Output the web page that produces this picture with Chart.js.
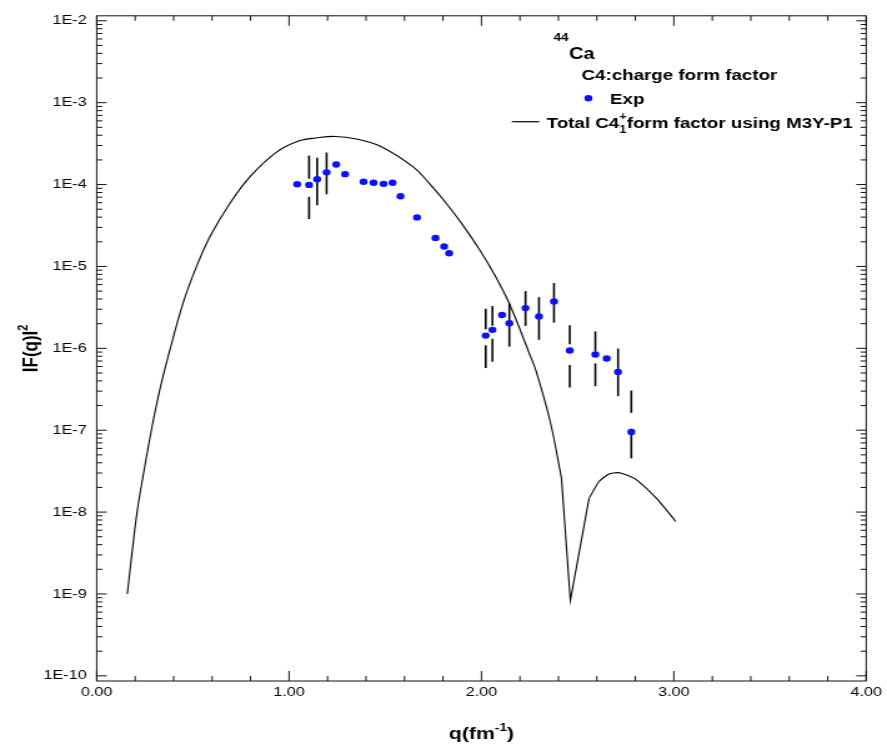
<!DOCTYPE html>
<html>
<head>
<meta charset="utf-8">
<script src="https://cdn.jsdelivr.net/npm/chart.js@4.4.1/dist/chart.umd.min.js"></script>
<style>
  html, body { margin: 0; padding: 0; background: #fff; overflow: hidden; }
  /* the source picture is stretched sideways, so the canvas is too */
  #wrap { width: 710px; height: 745px; transform: scaleX(1.2493); transform-origin: 0 0; }
</style>
</head>
<body>
<div id="wrap"><canvas id="chart"></canvas></div>
<script>
// theory curve: total C4 form factor (M3Y-P1)
const curveQ = [0.159, 0.208, 0.242, 0.286, 0.329, 0.377, 0.450, 0.519, 0.589, 0.692, 0.796, 0.935, 1.056, 1.140,
  1.238, 1.351, 1.472, 1.645, 1.731, 1.818, 1.905, 1.991, 2.069, 2.147, 2.251, 2.286, 2.358, 2.416, 2.462, 2.559,
  2.611, 2.663, 2.710, 2.762, 2.813, 2.909, 3.010]
const curveF = [1.0e-9, 9.3e-9, 2.84e-8, 1.05e-7, 3.2e-7, 8.9e-7, 3.63e-6, 1.0e-5, 2.32e-5, 5.87e-5, 1.24e-4, 2.49e-4, 3.44e-4, 3.71e-4,
  3.87e-4, 3.6e-4, 2.95e-4, 1.64e-4, 1.02e-4, 5.87e-5, 3.15e-5, 1.59e-5, 7.85e-6, 3.43e-6, 8.4e-7, 5.1e-7, 1.26e-7, 2.6e-8, 8.3e-10, 1.46e-8,
  2.36e-8, 2.92e-8, 3.03e-8, 2.79e-8, 2.41e-8, 1.48e-8, 7.7e-9]
// the minimum near q = 2.46 is a sharp notch, not smoothed
const dipFrom = 27, dipTo = 29

// experimental points
const expQ = [1.042, 1.104, 1.146, 1.195, 1.245, 1.291, 1.387, 1.439, 1.491, 1.538, 1.579, 1.665, 1.761, 1.806,
  1.832, 2.022, 2.057, 2.107, 2.145, 2.229, 2.299, 2.377, 2.459, 2.592, 2.651, 2.710, 2.779]
const expF = [1.01e-4, 9.9e-5, 1.16e-4, 1.41e-4, 1.76e-4, 1.34e-4, 1.08e-4, 1.05e-4, 1.02e-4, 1.05e-4, 7.2e-5, 3.97e-5, 2.23e-5, 1.75e-5,
  1.45e-5, 1.43e-6, 1.68e-6, 2.55e-6, 2.02e-6, 3.1e-6, 2.45e-6, 3.73e-6, 9.4e-7, 8.4e-7, 7.5e-7, 5.14e-7, 9.5e-8]
// error bar ends (null = no bar)
const errHi = [null, 2.26e-4, 2.12e-4, 2.46e-4, null, null, null, null, null, null, null, null, null, null,
  null, 3.04e-6, 3.28e-6, null, 3.53e-6, 4.99e-6, 4.22e-6, 6.28e-6, 1.91e-6, 1.61e-6, null, 9.95e-7, 3.05e-7]
const errLo = [null, 3.79e-5, 5.6e-5, 7.6e-5, null, null, null, null, null, null, null, null, null, null,
  null, 5.74e-7, 6.87e-7, null, 1.05e-6, 1.88e-6, 1.27e-6, 2.06e-6, 3.32e-7, 3.44e-7, null, 2.6e-7, 4.53e-8]
// where a bar is broken, the part left out
const gapHi = [null, 1.18e-4, null, null, null, null, null, null, null, null, null, null, null, null,
  null, 1.71e-6, 1.88e-6, null, null, null, null, null, 1.12e-6, 9.16e-7, null, null, 1.63e-7]
const gapLo = [null, 7.08e-5, null, null, null, null, null, null, null, null, null, null, null, null,
  null, 1.09e-6, 1.31e-6, null, null, null, null, null, 6.24e-7, 6.55e-7, null, null, 1.04e-7]

const decades = [-10, -9, -8, -7, -6, -5, -4, -3, -2]

const FONT = '"Liberation Sans", Arial, sans-serif'
const BLUE = 'rgb(8,18,255)'

function line(ctx, x1, y1, x2, y2) {
  ctx.beginPath()
  ctx.moveTo(x1, y1)
  ctx.lineTo(x2, y2)
  ctx.stroke()
}

function curvePart(from, to, tension) {
  return {
    label: 'Total C4 form factor using M3Y-P1',
    data: curveQ.slice(from, to + 1).map((q, i) => ({ x: q, y: curveF[from + i] })),
    borderColor: '#000',
    borderWidth: 1.1,
    pointRadius: 0,
    showLine: true,
    tension: tension,
    order: 1
  }
}

// error bars, under the markers
const errorBars = {
  id: 'errorBars',
  beforeDatasetsDraw(chart) {
    const { ctx, scales: { x, y } } = chart
    ctx.save()
    ctx.strokeStyle = '#000'
    ctx.lineWidth = 1.6
    for (let i = 0; i < expQ.length; i++) {
      if (errHi[i] == null) continue
      const px = x.getPixelForValue(expQ[i])
      if (gapHi[i] != null) {
        line(ctx, px, y.getPixelForValue(errHi[i]), px, y.getPixelForValue(gapHi[i]))
        line(ctx, px, y.getPixelForValue(gapLo[i]), px, y.getPixelForValue(errLo[i]))
      } else {
        line(ctx, px, y.getPixelForValue(errHi[i]), px, y.getPixelForValue(errLo[i]))
      }
    }
    ctx.restore()
  }
}

// box round the plot with inward ticks on all four sides
const frame = {
  id: 'frame',
  afterDraw(chart) {
    const { ctx, chartArea: a, scales: { x, y } } = chart
    ctx.save()
    ctx.strokeStyle = '#111'
    ctx.lineWidth = 1
    ctx.strokeRect(a.left, a.top, a.right - a.left, a.bottom - a.top)
    for (let i = 0; i <= 20; i++) {
      const px = x.getPixelForValue(i * 0.2)
      const len = i % 5 === 0 ? 10 : 5
      line(ctx, px, a.bottom, px, a.bottom - len)
      line(ctx, px, a.top, px, a.top + len)
    }
    decades.forEach(e => {
      for (let m = 1; m <= 9; m++) {
        if (e === -2 && m > 1) break
        const py = y.getPixelForValue(m * Math.pow(10, e))
        const len = m === 1 ? 8 : 4.5
        line(ctx, a.left, py, a.left + len, py)
        line(ctx, a.right, py, a.right - len, py)
      }
    })
    ctx.restore()
  }
}

// legend, nucleus label and axis titles
const labels = {
  id: 'labels',
  afterDraw(chart) {
    const { ctx, chartArea: a } = chart
    ctx.save()
    ctx.fillStyle = '#000'
    ctx.textBaseline = 'alphabetic'
    ctx.textAlign = 'left'

    ctx.font = 'bold 11px ' + FONT
    ctx.fillText('44', 443, 41)
    ctx.font = 'bold 16px ' + FONT
    ctx.fillText('Ca', 455.5, 59)

    ctx.font = 'bold 15px ' + FONT
    ctx.fillText('C4:charge form factor', 465.5, 79.5)

    ctx.fillStyle = BLUE
    ctx.beginPath()
    ctx.arc(471, 98.3, 3.2, 0, Math.PI * 2)
    ctx.fill()
    ctx.fillStyle = '#000'
    ctx.fillText('Exp', 488.3, 104)

    ctx.strokeStyle = '#000'
    ctx.lineWidth = 1.2
    line(ctx, 409.6, 121.7, 431.7, 121.7)
    let tx = 437.6
    const t1 = 'Total C4'
    ctx.fillText(t1, tx, 127.5)
    tx += ctx.measureText(t1).width
    ctx.font = 'bold 10px ' + FONT
    ctx.fillText('+', tx, 120)
    ctx.fillText('1', tx, 133)
    tx += 6
    ctx.font = 'bold 15px ' + FONT
    ctx.fillText('form factor using M3Y-P1', tx, 127.5)

    // x title
    const xt = 'q(fm', xc = ')'
    ctx.font = 'bold 17px ' + FONT
    const w1 = ctx.measureText(xt).width
    const w3 = ctx.measureText(xc).width
    ctx.font = 'bold 11px ' + FONT
    const w2 = ctx.measureText('-1').width
    let sx = (a.left + a.right) / 2 - (w1 + w2 + w3) / 2
    const by = 739
    ctx.font = 'bold 17px ' + FONT
    ctx.fillText(xt, sx, by)
    sx += w1
    ctx.font = 'bold 11px ' + FONT
    ctx.fillText('-1', sx, by - 8)
    sx += w2
    ctx.font = 'bold 17px ' + FONT
    ctx.fillText(xc, sx, by)

    // y title, rotated
    ctx.translate(24, (a.top + a.bottom) / 2)
    ctx.rotate(-Math.PI / 2)
    ctx.font = 'bold 17px ' + FONT
    const yt = 'IF(q)I'
    const v1 = ctx.measureText(yt).width
    ctx.font = 'bold 11px ' + FONT
    const v2 = ctx.measureText('2').width
    const sy = -(v1 + v2) / 2
    ctx.font = 'bold 17px ' + FONT
    ctx.fillText(yt, sy, 6)
    ctx.font = 'bold 11px ' + FONT
    ctx.fillText('2', sy + v1, -2)
    ctx.restore()
  }
}

new Chart(document.getElementById('chart'), {
  type: 'scatter',
  data: {
    datasets: [
      {
        label: 'Exp',
        data: expQ.map((q, i) => ({ x: q, y: expF[i] })),
        backgroundColor: BLUE,
        borderWidth: 0,
        pointRadius: 3.2,
        pointHoverRadius: 3.2,
        showLine: false,
        order: 0
      },
      curvePart(0, dipFrom, 0.35),
      curvePart(dipFrom, dipTo, 0),
      curvePart(dipTo, curveQ.length - 1, 0.2)
    ]
  },
  options: {
    responsive: true,
    maintainAspectRatio: false,
    animation: false,
    events: [],
    layout: { padding: { top: 11, right: 16.3, left: 0, bottom: 0 } },
    plugins: { legend: { display: false }, tooltip: { enabled: false } },
    scales: {
      x: {
        type: 'linear',
        min: 0,
        max: 4,
        grid: { display: false, drawTicks: false },
        border: { display: false },
        ticks: {
          stepSize: 1,
          padding: 4,
          color: '#000',
          font: { family: FONT, size: 13 },
          callback: v => v.toFixed(2)
        },
        afterFit: s => { s.height = 64 }
      },
      y: {
        type: 'logarithmic',
        min: Math.pow(10, -10.063),
        max: Math.pow(10, -1.939),
        grid: { display: false, drawTicks: false },
        border: { display: false },
        ticks: {
          padding: 8,
          color: '#000',
          font: { family: FONT, size: 13 },
          callback: v => '1E' + Math.round(Math.log10(v))
        },
        afterBuildTicks: s => { s.ticks = decades.map(e => ({ value: Math.pow(10, e) })) },
        afterFit: s => { s.width = 77.4 }
      }
    }
  },
  plugins: [errorBars, frame, labels]
})
</script>
</body>
</html>
